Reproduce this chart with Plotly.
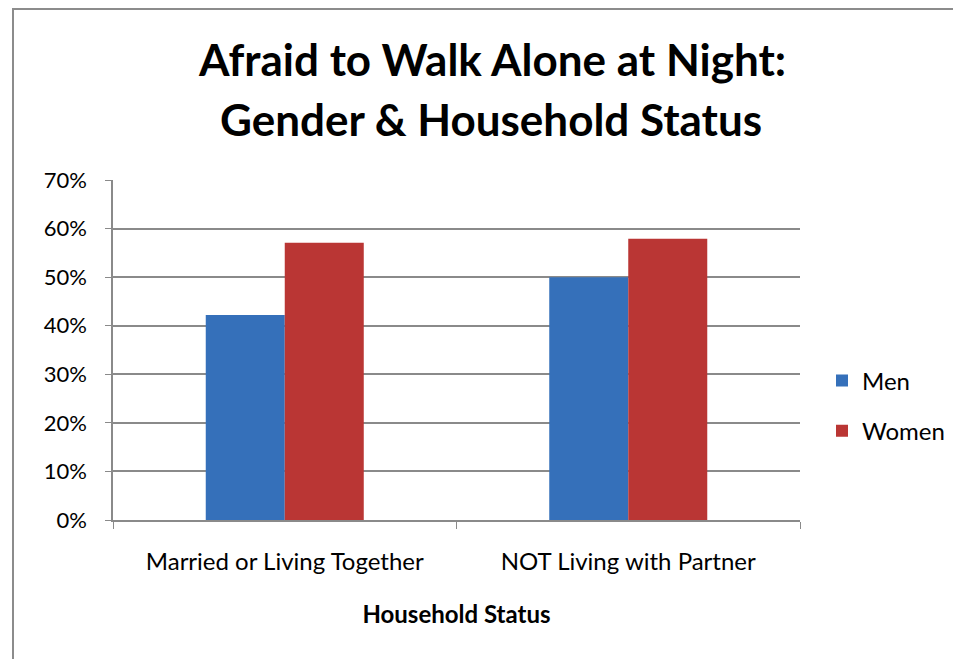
import plotly.graph_objects as go

categories = ["Married or Living Together", "NOT Living with Partner"]
men = [0.422, 0.50]
women = [0.571, 0.579]
series_names = ["Men", "Women"]
title_lines = ["Afraid to Walk Alone at Night:", "Gender & Household Status"]
x_title = "Household Status"
y_ticks = [0, 0.1, 0.2, 0.3, 0.4, 0.5, 0.6, 0.7]

FONT = "Lato, 'Open Sans', sans-serif"
OFF = 8  # page body margin
W, H = 961 - 2 * OFF, 659 - OFF
L, T = 113 - OFF, 180 - OFF
R = W - (800 - OFF)
B = H - (520 - OFF)
pw, ph = W - L - R, H - T - B

fig = go.Figure()
fig.add_trace(go.Bar(x=categories, y=men, name=series_names[0], legendgroup="m",
                     marker=dict(color="#3570BA", line=dict(width=0))))
fig.add_trace(go.Bar(x=categories, y=women, name=series_names[1], legendgroup="w",
                     marker=dict(color="#BA3634", line=dict(width=0))))

def px_x(x):
    return (x - OFF - L) / pw

def px_y(y):
    return (H - B - (y - OFF)) / ph

annotations = [
    dict(text="<b>%s</b>" % title_lines[0], x=px_x(492), y=px_y(59), xref="paper", yref="paper",
         showarrow=False, font=dict(family=FONT, size=44, color="#000"), xanchor="center", yanchor="middle"),
    dict(text="<b>%s</b>" % title_lines[1], x=px_x(491), y=px_y(119), xref="paper", yref="paper",
         showarrow=False, font=dict(family=FONT, size=44, color="#000"), xanchor="center", yanchor="middle"),
]

bx0, by0 = px_x(13), px_y(9)
bx1, by1 = px_x(1100), px_y(800)
border_path = "M %f,%f L %f,%f L %f,%f" % (bx0, by1, bx0, by0, bx1, by0)

fig.update_layout(
    width=W, height=H,
    margin=dict(l=L, r=R, t=T, b=B, pad=0),
    paper_bgcolor="white", plot_bgcolor="white",
    barmode="group", bargap=0.54, bargroupgap=0,
    font=dict(family=FONT, size=22, color="#000"),
    annotations=annotations,
    showlegend=True,
    legend=dict(xref="container", yref="container",
                x=(822 - OFF) / W, y=(H - (406 - OFF)) / H, xanchor="left", yanchor="middle",
                font=dict(family=FONT, size=24, color="#000"), tracegroupgap=16,
                bgcolor="rgba(0,0,0,0)"),
    shapes=[dict(type="path", xref="paper", yref="paper", path=border_path,
                 line=dict(color="#8c8c8c", width=2), layer="below")],
)
fig.update_yaxes(range=[0, 0.7], tickvals=y_ticks, tickformat=".0%",
                 showgrid=True, gridcolor="#8a8a8a", gridwidth=1.5,
                 showline=True, linecolor="#8a8a8a", linewidth=1.5,
                 ticks="outside", ticklen=6, tickcolor="#8a8a8a",
                 ticklabelstandoff=14,
                 zeroline=False, tickfont=dict(size=22))
fig.update_xaxes(showline=True, linecolor="#8a8a8a", linewidth=1.5,
                 ticks="outside", tickson="boundaries", ticklen=7, tickcolor="#8a8a8a",
                 ticklabelstandoff=19,
                 tickfont=dict(size=24),
                 title=dict(text="<b>%s</b>" % x_title, font=dict(size=24), standoff=33))

fig.write_html("out.html")
